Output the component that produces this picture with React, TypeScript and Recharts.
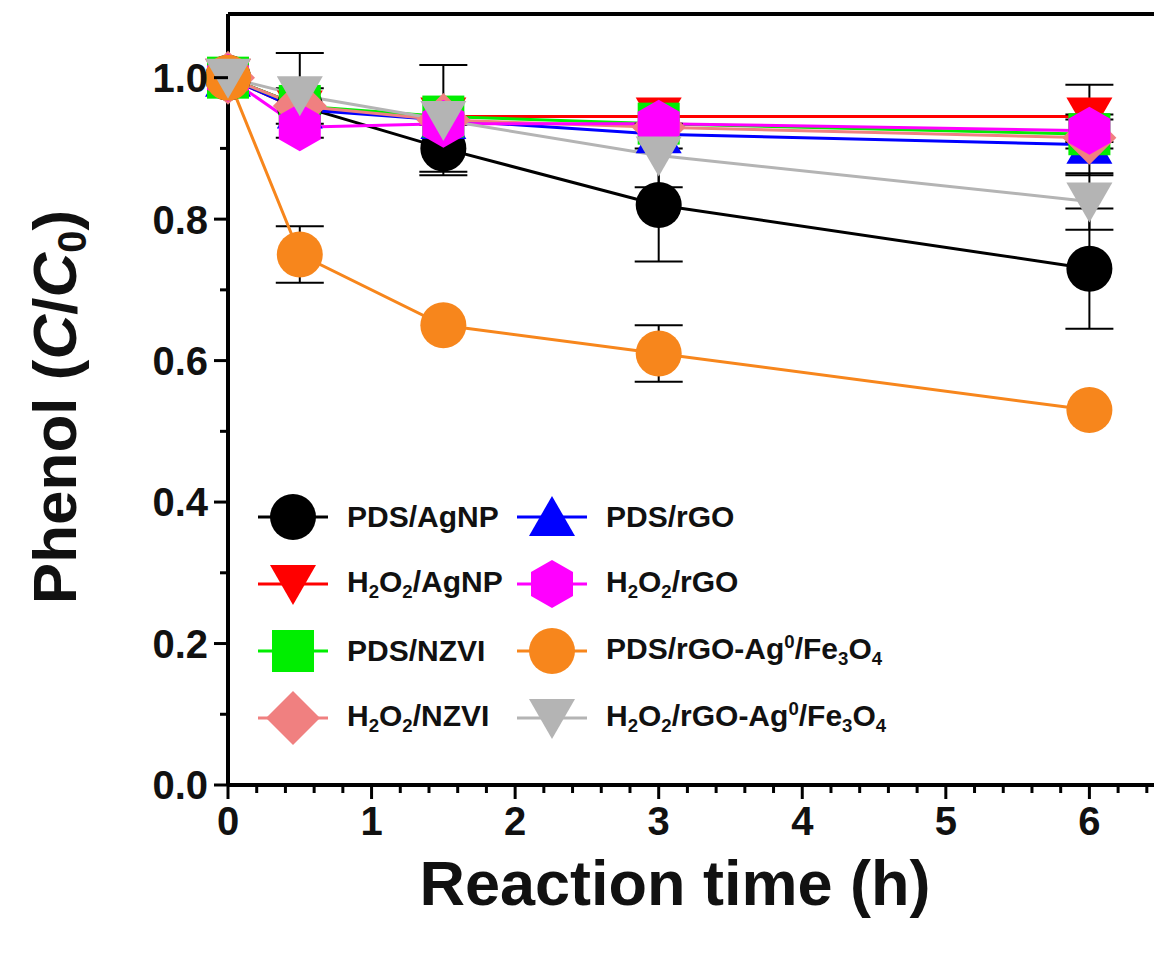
import React from 'react';
import { LineChart, Line, XAxis, YAxis, ErrorBar, ReferenceLine } from 'recharts';

// reaction time (h)
const times = [0, 0.5, 1.5, 3, 6];

// C/C0 per system
const pdsAgnp = [1.0, 0.96, 0.9, 0.82, 0.73];
const pdsAgnpErr = [0, 0.025, 0.033, 0.08, 0.085];
const h2o2Agnp = [1.0, 0.955, 0.945, 0.945, 0.945];
const h2o2AgnpErr = [0, 0, 0, 0, 0.045];
const pdsRgo = [1.0, 0.955, 0.94, 0.92, 0.905];
const pdsRgoErr = [0, 0, 0, 0, 0.043];
const pdsNzvi = [1.0, 0.96, 0.945, 0.935, 0.92];
const h2o2Nzvi = [1.0, 0.96, 0.94, 0.93, 0.915];
const h2o2Rgo = [1.0, 0.93, 0.935, 0.935, 0.925];
const h2o2RgoErr = [0, 0, 0, 0, 0.016];
const pdsComposite = [1.0, 0.75, 0.65, 0.61, 0.53];
const pdsCompositeErr = [0, 0.04, 0, 0.04, 0];
const h2o2Composite = [1.0, 0.975, 0.94, 0.89, 0.825];
const h2o2CompositeErr = [0, 0.06, 0.078, 0.045, 0.04];

const xMajorLabels = ['0', '1', '2', '3', '4', '5', '6'];
const yMajorLabels = ['0.0', '0.2', '0.4', '0.6', '0.8', '1.0'];

const FONT = '"Liberation Sans", Arial, sans-serif';

type Kind = 'circle' | 'triUp' | 'triDown' | 'square' | 'diamond' | 'hexagon';

const data = times.map((t, i) => ({
  t,
  pdsAgnp: pdsAgnp[i],
  pdsAgnpErr: pdsAgnpErr[i],
  h2o2Agnp: h2o2Agnp[i],
  h2o2AgnpErr: h2o2AgnpErr[i],
  pdsRgo: pdsRgo[i],
  pdsRgoErr: pdsRgoErr[i],
  pdsNzvi: pdsNzvi[i],
  h2o2Nzvi: h2o2Nzvi[i],
  h2o2Rgo: h2o2Rgo[i],
  h2o2RgoErr: h2o2RgoErr[i],
  pdsComposite: pdsComposite[i],
  pdsCompositeErr: pdsCompositeErr[i],
  h2o2Composite: h2o2Composite[i],
  h2o2CompositeErr: h2o2CompositeErr[i],
}));

const Sub = ({ children }: { children: React.ReactNode }) => (
  <sub style={{ fontSize: '0.62em', verticalAlign: '-0.3em' }}>{children}</sub>
);
const Sup = ({ children }: { children: React.ReactNode }) => (
  <sup style={{ fontSize: '0.62em', verticalAlign: '0.6em' }}>{children}</sup>
);

// drawing order = stacking order in the original
const series: { key: string; color: string; kind: Kind; err: boolean }[] = [
  { key: 'pdsAgnp', color: '#000000', kind: 'circle', err: true },
  { key: 'h2o2Agnp', color: '#ff0000', kind: 'triDown', err: true },
  { key: 'pdsRgo', color: '#0000ff', kind: 'triUp', err: true },
  { key: 'pdsNzvi', color: '#00ee00', kind: 'square', err: false },
  { key: 'h2o2Nzvi', color: '#f08080', kind: 'diamond', err: false },
  { key: 'h2o2Rgo', color: '#ff00ff', kind: 'hexagon', err: true },
  { key: 'pdsComposite', color: '#f7861c', kind: 'circle', err: true },
  { key: 'h2o2Composite', color: '#b4b4b4', kind: 'triDown', err: true },
];

const legendRows: { key: string; col: number; row: number; label: React.ReactNode }[] = [
  { key: 'pdsAgnp', col: 0, row: 0, label: <>PDS/AgNP</> },
  { key: 'h2o2Agnp', col: 0, row: 1, label: <>H<Sub>2</Sub>O<Sub>2</Sub>/AgNP</> },
  { key: 'pdsNzvi', col: 0, row: 2, label: <>PDS/NZVI</> },
  { key: 'h2o2Nzvi', col: 0, row: 3, label: <>H<Sub>2</Sub>O<Sub>2</Sub>/NZVI</> },
  { key: 'pdsRgo', col: 1, row: 0, label: <>PDS/rGO</> },
  { key: 'h2o2Rgo', col: 1, row: 1, label: <>H<Sub>2</Sub>O<Sub>2</Sub>/rGO</> },
  { key: 'pdsComposite', col: 1, row: 2, label: <>PDS/rGO-Ag<Sup>0</Sup>/Fe<Sub>3</Sub>O<Sub>4</Sub></> },
  { key: 'h2o2Composite', col: 1, row: 3, label: <>H<Sub>2</Sub>O<Sub>2</Sub>/rGO-Ag<Sup>0</Sup>/Fe<Sub>3</Sub>O<Sub>4</Sub></> },
];

const Marker = ({ cx, cy, kind, color }: { cx: number; cy: number; kind: Kind; color: string }) => {
  if (cx == null || cy == null) return null;
  switch (kind) {
    case 'circle':
      return <circle cx={cx} cy={cy} r={23} fill={color} />;
    case 'triUp':
      return <polygon points={`${cx},${cy - 21} ${cx + 23},${cy + 19} ${cx - 23},${cy + 19}`} fill={color} />;
    case 'triDown':
      return <polygon points={`${cx},${cy + 21} ${cx + 23},${cy - 19} ${cx - 23},${cy - 19}`} fill={color} />;
    case 'square':
      return <rect x={cx - 21} y={cy - 21} width={42} height={42} fill={color} />;
    case 'diamond':
      return <polygon points={`${cx},${cy - 27} ${cx + 27},${cy} ${cx},${cy + 27} ${cx - 27},${cy}`} fill={color} />;
    case 'hexagon':
      return (
        <polygon
          points={`${cx},${cy - 24} ${cx + 21},${cy - 12} ${cx + 21},${cy + 12} ${cx},${cy + 24} ${cx - 21},${cy + 12} ${cx - 21},${cy - 12}`}
          fill={color}
        />
      );
  }
  return null;
};

const xTicks = Array.from({ length: 33 }, (_, i) => +(i * 0.2).toFixed(1));
const yTicks = Array.from({ length: 11 }, (_, i) => +(i * 0.1).toFixed(1));

const XTick = (props: any) => {
  const { x, y, payload } = props;
  const v = payload.value;
  const idx = xMajorLabels.indexOf(String(v));
  const major = idx >= 0;
  return (
    <g>
      <line x1={x} x2={x} y1={y} y2={y + (major ? 14 : 8)} stroke="#000" strokeWidth={3} />
      {major && (
        <text x={x} y={y + 50} textAnchor="middle" fontSize={40} fontWeight="bold" fontFamily={FONT} fill="#111">
          {xMajorLabels[idx]}
        </text>
      )}
    </g>
  );
};

const YTick = (props: any) => {
  const { x, y, payload } = props;
  const v = payload.value;
  const idx = yMajorLabels.indexOf(v.toFixed(1));
  const major = idx >= 0;
  return (
    <g>
      <line x1={x} x2={x - (major ? 14 : 8)} y1={y} y2={y} stroke="#000" strokeWidth={3} />
      {major && (
        <text x={x - 20} y={y} dy="0.36em" textAnchor="end" fontSize={40} fontWeight="bold" fontFamily={FONT} fill="#111">
          {yMajorLabels[idx]}
        </text>
      )}
    </g>
  );
};

const YLabel = () => (
  <text
    x={76}
    y={407}
    transform="rotate(-90, 76, 407)"
    textAnchor="middle"
    fontSize={62}
    fontWeight="bold"
    fontFamily={FONT}
    fill="#111"
  >
    Phenol (<tspan fontStyle="italic">C</tspan>/<tspan fontStyle="italic">C</tspan>
    <tspan fontSize={40} dy={10}>0</tspan>
    <tspan dy={-10}>)</tspan>
  </text>
);

const XLabel = () => (
  <text x={675} y={905} textAnchor="middle" fontSize={63} fontWeight="bold" fontFamily={FONT} fill="#111">
    Reaction time (h)
  </text>
);

const LegendBox = () => (
  <>
    {legendRows.map((r) => {
      const s = series.find((d) => d.key === r.key)!;
      const cx = r.col === 0 ? 293 : 552;
      const cy = 517 + r.row * 67;
      return (
        <div
          key={r.key}
          style={{
            position: 'absolute',
            left: cx - 40,
            top: cy - 30,
            height: 60,
            display: 'flex',
            alignItems: 'center',
            whiteSpace: 'nowrap',
          }}
        >
          <svg width={80} height={60}>
            <line x1={5} x2={75} y1={30} y2={30} stroke={s.color} strokeWidth={3} />
            <Marker cx={40} cy={30} kind={s.kind} color={s.color} />
          </svg>
          <span
            style={{
              marginLeft: 14,
              fontFamily: FONT,
              fontWeight: 'bold',
              fontSize: 30,
              lineHeight: 1,
              color: '#111',
            }}
          >
            {r.label}
          </span>
        </div>
      );
    })}
  </>
);

export default function App() {
  return (
    <div style={{ position: 'absolute', left: 0, top: 0, width: 1154, height: 954, background: '#fff' }}>
      <LineChart width={1154} height={954} data={data} margin={{ top: 14, right: 0, bottom: 0, left: 0 }}>
        <XAxis
          dataKey="t"
          type="number"
          domain={[0, 6.45]}
          ticks={xTicks}
          interval={0}
          height={169}
          tickSize={0}
          tickMargin={0}
          tickLine={false}
          axisLine={{ stroke: '#000', strokeWidth: 4 }}
          tick={(p: any) => <XTick {...p} />}
        />
        <YAxis
          type="number"
          domain={[0, 1.09]}
          ticks={yTicks}
          interval={0}
          width={228}
          tickSize={0}
          tickMargin={0}
          tickLine={false}
          axisLine={{ stroke: '#000', strokeWidth: 4 }}
          tick={(p: any) => <YTick {...p} />}
        />
        <ReferenceLine y={1.09} stroke="#000" strokeWidth={4} />
        {series.map((s) => (
          <Line
            key={s.key}
            dataKey={s.key}
            stroke={s.color}
            strokeWidth={3}
            isAnimationActive={false}
            activeDot={false}
            dot={(p: any) => <Marker key={`${s.key}-${p.index}`} cx={p.cx} cy={p.cy} kind={s.kind} color={s.color} />}
          >
            {s.err && (
              <ErrorBar dataKey={`${s.key}Err`} width={24} stroke="#000" strokeWidth={2} direction="y" />
            )}
          </Line>
        ))}
      </LineChart>
      <svg width={1154} height={954} style={{ position: 'absolute', left: 0, top: 0, pointerEvents: 'none' }}>
        <YLabel />
        <XLabel />
      </svg>
      <LegendBox />
    </div>
  );
}
